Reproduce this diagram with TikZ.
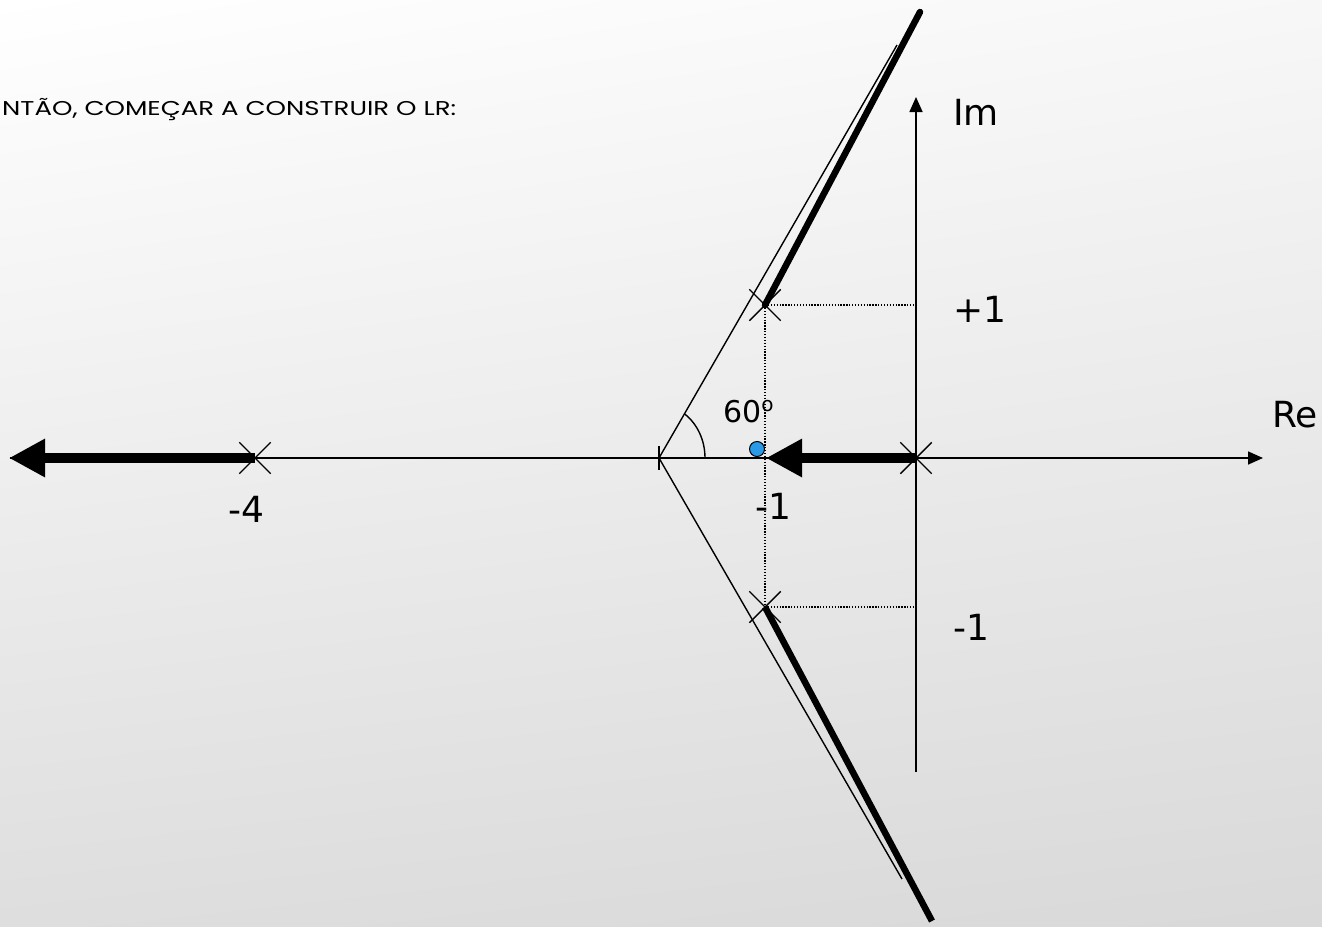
\documentclass[tikz,border=0pt]{standalone}
\usepackage{fontspec}
\setmainfont{DejaVu Sans}
\newfontfamily\titulo[FakeStretch=1.3]{Poppins}
\usetikzlibrary{arrows.meta,shapes.misc,shadings}
\definecolor{azul}{RGB}{41,155,230}

\tikzset{
  polo/.style={draw, cross out, line width=1.4pt, minimum size=30pt, inner sep=0pt},
  rotulo/.style={font=\fontsize{36}{40}\selectfont, inner sep=0pt, anchor=base west},
  ramo/.style={line width=6.5pt},
  seta/.style={line width=10pt, -{Triangle[length=36pt,width=36pt]}},
  eixo/.style={line width=1.6pt, -{Triangle[length=15pt,width=13pt]}},
  guia/.style={line width=1.3pt, dash pattern=on 1.3pt off 1.6pt},
  assint/.style={line width=1.4pt}
}

\begin{document}
\begin{tikzpicture}[x=1pt, y=-1pt]
  \useasboundingbox (0,0) rectangle (1322,926);
  \shade[upper left=white, upper right=gray!6, lower left=gray!26, lower right=gray!30]
    (0,0) rectangle (1322,926);

  \node[font=\titulo\fontsize{20}{22}\selectfont, inner sep=0pt, anchor=base west]
    (titulo) at (2,115) {NTÃO, COMEÇAR A CONSTRUIR O LR:};

  % pontos auxiliares
  \coordinate (cent) at (659,458);
  \coordinate (reIni) at (10,458);   \coordinate (reFim) at (1263,458);
  \coordinate (imIni) at (916,772);  \coordinate (imFim) at (916,97);
  \coordinate (assSup) at (897,45);  \coordinate (assInf) at (902,879);
  \coordinate (ramoSup) at (920,12); \coordinate (ramoInf) at (932,921);
  \coordinate (pontaA) at (766,458); \coordinate (pontaB) at (9,458);

  % eixos
  \draw[eixo] (reIni) -- (reFim);
  \draw[eixo] (imIni) -- (imFim);

  % polos
  \foreach \n/\px/\py in {pZero/916/458, pQuatro/255/458, pSup/765/305, pInf/765/607}
    \node[polo] (\n) at (\px,\py) {};

  % linhas de chamada
  \draw[guia] (pSup.center) -- (pSup.center -| pZero.center);
  \draw[guia] (pInf.center) -- (pInf.center -| pZero.center);
  \draw[guia] (pSup.center) -- (pInf.center);

  % assintotas e centroide
  \draw[assint] (cent) -- (assSup);
  \draw[assint] (cent) -- (assInf);
  \draw[assint] (cent) ++(0,-12) -- ++(0,24);
  \draw[assint] (cent) ++(46,0) arc[start angle=0, end angle=-56, x radius=46, y radius=53];

  % ramos do LR
  \draw[ramo, line cap=round] (pSup.center) -- (ramoSup);
  \draw[ramo] (pInf.center) -- (ramoInf);
  \draw[seta] (pZero.center) -- (pontaA);
  \draw[seta] (pQuatro.center) -- (pontaB);

  \node[circle, draw, fill=azul, line width=1pt, minimum size=15pt, inner sep=0pt]
    (ptSep) at (757,449) {};

  % rotulos
  \node[rotulo, font=\fontsize{30}{34}\selectfont] (r60) at (723,422)
    {60\raisebox{11pt}{\fontsize{20}{20}\selectfont o}};
  \node[rotulo] (rMenosUm) at (755,519) {-1};
  \node[rotulo] (rMenosQuatro) at (228,522) {-4};
  \node[rotulo] (rMaisUmIm) at (953,322) {+1};
  \node[rotulo] (rMenosUmIm) at (953,640) {-1};
  \node[rotulo] (rIm) at (953,125) {Im};
  \node[rotulo] (rRe) at (1272,427) {Re};
\end{tikzpicture}
\end{document}
